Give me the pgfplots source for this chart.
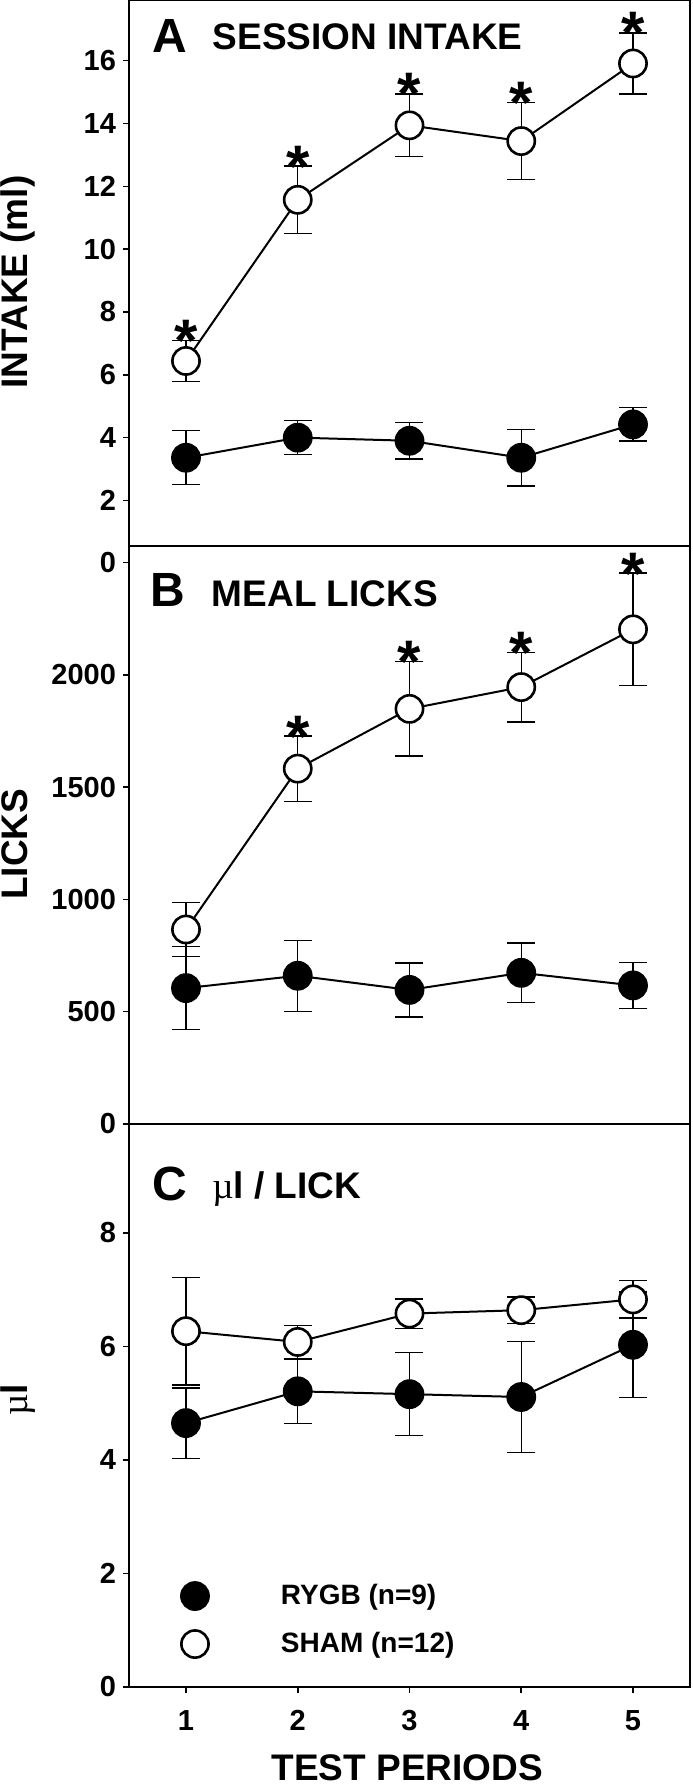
\documentclass[border=0pt]{standalone}
\usepackage{fontspec}
\setmainfont{Liberation Sans}
\newfontfamily\symfont{Liberation Serif}
\usepackage{pgfplots}
\pgfplotsset{compat=1.18}

\tikzset{
  letter/.style={anchor=base west, inner sep=0pt, font=\fontsize{24}{24}\selectfont\bfseries},
  ttl/.style={anchor=base west, inner sep=0pt, font=\fontsize{18.5}{18.5}\selectfont\bfseries},
}
\pgfplotsset{
  panel/.style={
    scale only axis, width=280.5pt,
    xmin=0.49, xmax=5.51,
    axis line style={line width=0.9pt},
    tick align=outside, ytick pos=left, xtick pos=bottom,
    major tick length=3pt,
    tick style={line width=0.8pt, black},
    tick label style={font=\fontsize{14.5}{14.5}\selectfont\bfseries},
    /pgf/number format/assume math mode=true,
    clip=false,
  },
  ylab/.style={every axis y label/.style={at={(axis description cs:-0.1818,#1)}, rotate=90, anchor=base,
      font=\fontsize{18.5}{18.5}\selectfont\bfseries}},
  errs/.style={error bars/y dir=both, error bars/y explicit,
    error bars/error bar style={line width=0.7pt, black},
    error bars/error mark options={rotate=90, mark size=7pt, line width=0.7pt, black}},
  rygb/.style={black, line width=1pt, mark=*, mark size=7pt,
    mark options={fill=black, draw=black, line width=0.9pt}, errs},
  sham/.style={black, line width=1pt, mark=*, mark size=6.8pt,
    mark options={fill=white, draw=black, line width=1.3pt}, errs},
  stars/.style={draw=none, mark=none, nodes near coords={*},
    every node near coord/.style={anchor=base, yshift=-10.5pt, inner sep=0pt,
      font=\fontsize{30}{30}\selectfont\bfseries, black}},
}

\begin{document}
\begin{tikzpicture}
\useasboundingbox (0,0) rectangle (346pt,-892.5pt);

% A: session intake
\begin{axis}[panel, ylab=0.4835, at={(64.5pt,0pt)}, anchor=north west,
  height=273pt, ymin=0.55, ymax=17.93,
  ytick={2,4,...,16}, xtick=\empty,
  ylabel={INTAKE (ml)}]
\addplot[rygb] coordinates {
  (1,3.36) +- (0,0.86) (2,4.00) +- (0,0.54) (3,3.90) +- (0,0.58)
  (4,3.36) +- (0,0.90) (5,4.42) +- (0,0.53)};
\addplot[sham] coordinates {
  (1,6.44) +- (0,0.65) (2,11.57) +- (0,1.07) (3,13.94) +- (0,1.00)
  (4,13.44) +- (0,1.23) (5,15.91) +- (0,0.97)};
\addplot[stars] coordinates {(1,7.09) (2,12.64) (3,14.94) (4,14.67) (5,16.88)};
\node[letter] at (rel axis cs:0.041,0.904) {A};
\node[ttl] at (rel axis cs:0.1488,0.910) {SESSION INTAKE};
\end{axis}

% B: meal licks
\begin{axis}[panel, ylab=0.484, at={(64.5pt,-273pt)}, anchor=north west,
  height=289pt, ymin=0, ymax=2573,
  ytick={0,500,1000,1500,2000,2500}, yticklabels={0,500,1000,1500,2000,0},
  xtick=\empty,
  ylabel={LICKS}]
\addplot[rygb] coordinates {
  (1,605) +- (0,185) (2,660) +- (0,158) (3,597) +- (0,120)
  (4,673) +- (0,133) (5,617) +- (0,103)};
\addplot[sham] coordinates {
  (1,866) +- (0,120) (2,1582) +- (0,145) (3,1848) +- (0,210)
  (4,1945) +- (0,155) (5,2202) +- (0,250)};
\addplot[stars] coordinates {(2,1727) (3,2058) (4,2100) (5,2452)};
\node[letter] at (rel axis cs:0.0385,0.896) {B};
\node[ttl] at (rel axis cs:0.1469,0.896) {MEAL LICKS};
\end{axis}

% C: ul per lick
\begin{axis}[panel, ylab=0.51, at={(64.5pt,-562pt)}, anchor=north west,
  height=281.5pt, ymin=0, ymax=9.92,
  ytick={0,2,...,8}, xtick={1,2,3,4,5},
  ylabel={{\mdseries\symfont µ}l},
  xlabel={TEST PERIODS},
  every axis x label/.style={at={(axis description cs:0.496,0)}, anchor=base, yshift=-46.5pt,
    font=\fontsize{18.5}{18.5}\selectfont\bfseries},
  xticklabel style={yshift=-5pt},
  legend image code/.code={\path[draw=none, fill=none] (-8pt,-8pt) rectangle (43pt,8pt); \draw[#1] plot coordinates {(0pt,0pt)};},
  legend cell align=left,
  legend style={at={(rel axis cs:0.0891,0.190)}, anchor=north west, draw=none, fill=none,
    inner sep=0pt, outer sep=0pt, row sep=8pt, /tikz/column sep=0pt,
    nodes={inner sep=0pt}, font=\fontsize{14}{14}\selectfont\bfseries}]
\addplot[rygb, forget plot] coordinates {
  (1,4.65) +- (0,0.62) (2,5.21) +- (0,0.57) (3,5.16) +- (0,0.73)
  (4,5.11) +- (0,0.98) (5,6.03) +- (0,0.93)};
\addplot[sham, forget plot] coordinates {
  (1,6.27) +- (0,0.95) (2,6.08) +- (0,0.29) (3,6.58) +- (0,0.26)
  (4,6.64) +- (0,0.23) (5,6.83) +- (0,0.33)};
\addlegendimage{only marks, mark=*, mark size=7pt, mark options={fill=black, draw=black, line width=0.9pt}}
\addlegendentry{RYGB (n=9)}
\addlegendimage{only marks, mark=*, mark size=6.8pt, mark options={fill=white, draw=black, line width=1.3pt}}
\addlegendentry{SHAM (n=12)}
\node[letter] at (rel axis cs:0.0403,0.865) {C};
\node[ttl] at (rel axis cs:0.148,0.868) {{\mdseries\symfont µ}l / LICK};
\end{axis}
\end{tikzpicture}
\end{document}
